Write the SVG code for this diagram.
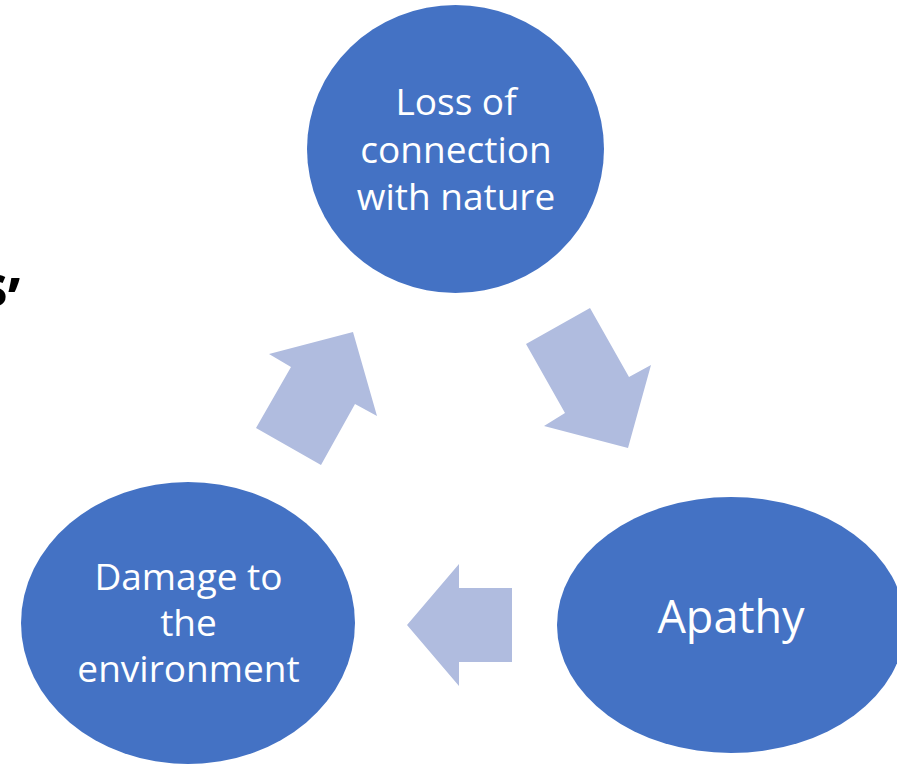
<svg xmlns="http://www.w3.org/2000/svg" width="897" height="766" viewBox="0 0 897 766">
<style>
.node{fill:#4472C4;}
.lbl{fill:#ffffff;font-family:"Open Sans","Noto Sans",sans-serif;text-anchor:middle;font-size:37px;}
.arr{fill:#B0BCDF;}
</style>
<rect width="897" height="766" fill="#ffffff"/>
<text x="-21" y="306" font-family="Open Sans, sans-serif" font-size="58" font-weight="bold" fill="#000000">s<tspan dy="13">’</tspan></text>
<g id="connectors">
<polygon class="arr" points="353,332 269,354 291,367 256,428 321,465 355,404 377,416"/>
<polygon class="arr" points="526,344 590,308 629,377 651,365 628,448 544,426 565,413"/>
<polygon class="arr" points="407,625 459,564 459,588 512,588 512,662 459,662 459,686"/>
</g>
<g id="loss">
<ellipse class="node" cx="455.5" cy="149" rx="148.5" ry="144"/>
<text class="lbl" x="456" y="115">Loss of</text>
<text class="lbl" x="456" y="163">connection</text>
<text class="lbl" x="456" y="210">with nature</text>
</g>
<g id="apathy">
<ellipse class="node" cx="731" cy="625" rx="174" ry="128"/>
<text class="lbl" x="731" y="633" style="font-size:45px">Apathy</text>
</g>
<g id="damage">
<ellipse class="node" cx="188" cy="623" rx="167" ry="141"/>
<text class="lbl" x="188.5" y="590">Damage to</text>
<text class="lbl" x="188.5" y="636">the</text>
<text class="lbl" x="188.5" y="682">environment</text>
</g>
</svg>
